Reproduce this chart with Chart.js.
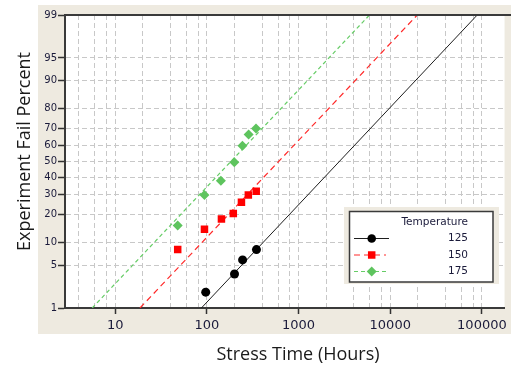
<!DOCTYPE html>
<html><head><meta charset="utf-8">
<script src="https://cdn.jsdelivr.net/npm/chart.js@4"></script>
<style>html,body{margin:0;padding:0;background:#fff;overflow:hidden}#wrap{position:relative;width:511px;height:366px}</style>
</head><body><div id="wrap"><canvas id="c" width="511" height="366"></canvas></div>
<script>
// ---- data ----
const seriesNames = ['125', '150', '175'];
const legendTitle = 'Temperature';
const xTitle = 'Stress Time (Hours)';
const yTitle = 'Experiment Fail Percent';

const t125 = [97, 200, 245, 347];
const p125 = [1.9, 3.7, 5.9, 8.1];
const t150 = [48, 94, 144, 194, 238, 283, 345];
const p150 = [8.1, 14.1, 18.1, 20.4, 25.9, 29.7, 31.9];
const t175 = [48, 94, 142, 199, 244, 285, 343];
const p175 = [15.5, 29.8, 38, 49.6, 59.8, 66.6, 70];

// fitted lognormal lines: time at 1% and at 99%
const fitP = [1, 99];
const fit125 = [87, 88900];
const fit150 = [18.6, 19700];
const fit175 = [5.6, 5940];

const yTickPercents = [1, 5, 10, 20, 30, 40, 50, 60, 70, 80, 90, 95, 99];
const xMajorValues = [10, 100, 1000, 10000, 100000];
const xTickLabels = ['10', '100', '1000', '10000', '100000'];
const xMinorMultipliers = [2, 4, 6, 8];
const xMin = 2.829, xMax = 176600;

// ---- normal quantile (probability-plot scale) ----
function probit(p) {
  const a = [-3.969683028665376e+01, 2.209460984245205e+02, -2.759285104469687e+02, 1.383577518672690e+02, -3.066479806614716e+01, 2.506628277459239e+00];
  const b = [-5.447609879822406e+01, 1.615858368580409e+02, -1.556989798598866e+02, 6.680131188771972e+01, -1.328068155288572e+01];
  const c = [-7.784894002430293e-03, -3.223964580411365e-01, -2.400758277161838e+00, -2.549732539343734e+00, 4.374664141464968e+00, 2.938163982698783e+00];
  const d = [7.784695709041462e-03, 3.224671290700398e-01, 2.445134137142996e+00, 3.754408325608108e+00];
  const pl = 0.02425, ph = 1 - pl;
  let q, r;
  if (p < pl) { q = Math.sqrt(-2 * Math.log(p)); return (((((c[0]*q+c[1])*q+c[2])*q+c[3])*q+c[4])*q+c[5]) / ((((d[0]*q+d[1])*q+d[2])*q+d[3])*q+1); }
  if (p <= ph) { q = p - 0.5; r = q*q; return (((((a[0]*r+a[1])*r+a[2])*r+a[3])*r+a[4])*r+a[5])*q / (((((b[0]*r+b[1])*r+b[2])*r+b[3])*r+b[4])*r+1); }
  q = Math.sqrt(-2 * Math.log(1 - p)); return -(((((c[0]*q+c[1])*q+c[2])*q+c[3])*q+c[4])*q+c[5]) / ((((d[0]*q+d[1])*q+d[2])*q+d[3])*q+1);
}
const z = pct => probit(pct / 100);
const pts = (t, p) => t.map((v, i) => ({ x: v, y: z(p[i]) }));

const colors = ['#000000', '#ff0000', '#5ec45e'];
const lineColors = ['#1e1e1e', '#ff2a2a', '#66cc66'];
const lineWidths = [1, 1.2, 1.2];
const lineDash = [[], [6, 4], [4, 3]];
const pointStyles = ['circle', 'rect', 'rectRot'];
const pointRadii = [4.5, 5.3, 5];
const BEIGE = '#eeeae0';
const TEXT = '#1a1a3a';

// x ticks: decades + minor gridlines
const xTickValues = [];
for (let e = 0; e <= 5; e++) {
  const d = Math.pow(10, e);
  [1].concat(xMinorMultipliers).forEach(m => { const v = d * m; if (v >= xMin && v <= xMax) xTickValues.push(v); });
}
xTickValues.sort((a, b) => a - b);

const datasets = [];
[[t125, p125], [t150, p150], [t175, p175]].forEach((s, i) => {
  datasets.push({
    label: seriesNames[i], data: pts(s[0], s[1]), showLine: false, order: 0,
    pointStyle: pointStyles[i], pointRadius: pointRadii[i], pointHoverRadius: pointRadii[i],
    backgroundColor: colors[i], borderColor: colors[i], borderWidth: 0
  });
});
[fit125, fit150, fit175].forEach((f, i) => {
  datasets.push({
    label: seriesNames[i] + ' fit', data: pts(f, fitP), showLine: true, order: 1,
    borderColor: lineColors[i], borderWidth: lineWidths[i], borderDash: lineDash[i],
    pointRadius: 0, fill: false
  });
});

const decor = {
  id: 'decor',
  beforeDraw(chart) {
    const ctx = chart.ctx, ca = chart.chartArea;
    ctx.save();
    ctx.fillStyle = '#ffffff'; ctx.fillRect(0, 0, chart.width, chart.height);
    ctx.fillStyle = BEIGE; ctx.fillRect(38, 5, chart.width - 38, 329);
    ctx.fillStyle = '#ffffff'; ctx.fillRect(ca.left, ca.top, ca.right - ca.left, ca.bottom - ca.top);
    ctx.restore();
  },
  afterDraw(chart) {
    const ctx = chart.ctx, ca = chart.chartArea;
    ctx.save();
    // top frame line
    ctx.strokeStyle = '#3a3a3a'; ctx.lineWidth = 2;
    ctx.beginPath(); ctx.moveTo(ca.left - 1, ca.top); ctx.lineTo(chart.width, ca.top); ctx.stroke();
    // axis titles
    ctx.fillStyle = '#1a1a1a';
    ctx.font = '18px "Open Sans"';
    ctx.textAlign = 'center'; ctx.textBaseline = 'alphabetic';
    ctx.fillText(xTitle, 298, 360);
    ctx.translate(29.5, 151.5); ctx.rotate(-Math.PI / 2);
    ctx.fillText(yTitle, 0, 0);
    ctx.setTransform(1, 0, 0, 1, 0, 0);
    // legend
    ctx.fillStyle = BEIGE; ctx.fillRect(344, 207, 155, 77);
    ctx.fillStyle = '#ffffff'; ctx.fillRect(349, 212, 144, 70);
    ctx.strokeStyle = '#3a3a3a'; ctx.lineWidth = 1.5; ctx.strokeRect(349.5, 211.5, 143.5, 70.5);
    ctx.fillStyle = TEXT; ctx.font = '10.5px "DejaVu Sans"';
    ctx.textAlign = 'right'; ctx.textBaseline = 'middle';
    ctx.fillText(legendTitle, 468, 222);
    const ys = [238.5, 255, 271.5];
    seriesNames.forEach((n, i) => {
      const y = ys[i];
      ctx.strokeStyle = lineColors[i]; ctx.lineWidth = lineWidths[i]; ctx.setLineDash(lineDash[i]);
      ctx.beginPath(); ctx.moveTo(354, y); ctx.lineTo(i === 1 ? 386 : 389, y); ctx.stroke();
      ctx.setLineDash([]);
      ctx.fillStyle = colors[i];
      const mx = 371.7, r = pointRadii[i];
      ctx.beginPath();
      if (pointStyles[i] === 'circle') ctx.arc(mx, y, 4.3, 0, Math.PI * 2);
      else if (pointStyles[i] === 'rect') { const s = r * Math.SQRT1_2; ctx.rect(mx - s, y - s, 2 * s, 2 * s); }
      else { ctx.moveTo(mx, y - r); ctx.lineTo(mx + r, y); ctx.lineTo(mx, y + r); ctx.lineTo(mx - r, y); ctx.closePath(); }
      ctx.fill();
      ctx.fillStyle = TEXT;
      ctx.fillText(n, 468, y);
    });
    ctx.restore();
  }
};

new Chart(document.getElementById('c'), {
  type: 'scatter',
  data: { datasets },
  plugins: [decor],
  options: {
    responsive: false, animation: false, events: [],
    layout: { padding: { top: 15, left: 0, right: 0, bottom: 0 } },
    plugins: { legend: { display: false }, tooltip: { enabled: false }, title: { display: false } },
    scales: {
      x: {
        type: 'logarithmic', position: 'bottom', min: xMin, max: xMax,
        afterBuildTicks(axis) { axis.ticks = xTickValues.map(v => ({ value: v })); },
        afterFit(s) { s.height = 58; },
        ticks: {
          autoSkip: false, maxRotation: 0, minRotation: 0, padding: 4,
          font: { family: 'DejaVu Sans', size: 13 }, color: TEXT,
          callback(v) { const k = xMajorValues.indexOf(v); return k >= 0 ? xTickLabels[k] : ''; }
        },
        grid: {
          color: '#c8c8c8', lineWidth: 1, tickLength: 6, tickWidth: 1.5,
          tickColor: ctx => (ctx.tick && xMajorValues.indexOf(ctx.tick.value) >= 0) ? '#333333' : 'rgba(0,0,0,0)'
        },
        border: { display: true, color: '#3a3a3a', width: 2, dash: [5, 3] }
      },
      y: {
        type: 'linear', position: 'left', min: z(1), max: z(99),
        afterBuildTicks(axis) { axis.ticks = yTickPercents.map(p => ({ value: z(p) })); },
        afterFit(s) { s.width = 65; },
        ticks: {
          autoSkip: false, padding: 1,
          font: { family: 'DejaVu Sans', size: 10 }, color: TEXT,
          callback(v, i) { return String(yTickPercents[i]); }
        },
        grid: { color: '#c8c8c8', lineWidth: 1, tickLength: 7, tickWidth: 1.5, tickColor: '#333333' },
        border: { display: true, color: '#3a3a3a', width: 2, dash: [5, 3] }
      }
    }
  }
});
</script></body></html>
